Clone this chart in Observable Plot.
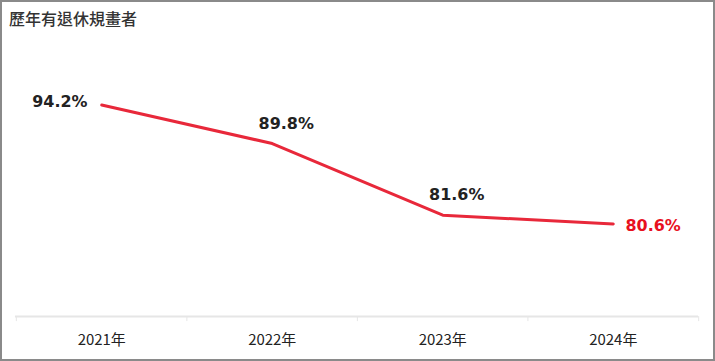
<!DOCTYPE html>
<html><head><meta charset="utf-8">
<script src="https://cdn.jsdelivr.net/npm/d3@7"></script>
<script src="https://cdn.jsdelivr.net/npm/@observablehq/plot@0.6"></script>
<style>
html,body{margin:0;padding:0;background:#fff;}
#wrap{position:relative;width:715px;height:361px;box-sizing:border-box;border:2px solid #8a8a8a;overflow:hidden;}
#title{position:absolute;left:7px;top:4px;font-family:"Noto Sans CJK TC",sans-serif;font-size:16px;font-weight:500;color:#333;}
#chart{position:absolute;left:-2px;top:-2px;}
</style></head>
<body>
<div id="wrap"><div id="title">歷年有退休規畫者</div><div id="chart"></div></div>
<script>
const years = ["2021年","2022年","2023年","2024年"];
const values = [94.2, 89.8, 81.6, 80.6];
const labels = ["94.2%","89.8%","81.6%","80.6%"];
const data = years.map((y,i)=>({year:y, value:values[i], label:labels[i], i}));
const W = 715, H = 361, mL = 15, mR = 15;
const step = (W - mL - mR) / years.length;
const font = "'DejaVu Sans', Verdana, sans-serif";
const chart = Plot.plot({
  width: W, height: H,
  marginLeft: mL, marginRight: mR, marginTop: 54, marginBottom: 44,
  style: {background: "transparent", overflow: "visible"},
  x: {type: "band", domain: years, padding: 0, label: null},
  y: {domain: [70, 100], axis: null},
  marks: [
    Plot.ruleY([70], {stroke: "#e6e6e6", strokeWidth: 2}),
    Plot.ruleX(years, {x: d=>d, dx: -step/2, y1: 70, y2: 70, insetBottom: -5, stroke: "#e6e6e6", strokeWidth: 1}),
    Plot.ruleX([years[years.length-1]], {x: d=>d, dx: step/2, y1: 70, y2: 70, insetBottom: -5, stroke: "#e6e6e6", strokeWidth: 1}),
    Plot.axisX({tickSize: 0, tickPadding: 18, fontSize: 15, fill: "#222", fontFamily: "'Noto Sans CJK TC', sans-serif", label: null}),
    Plot.line(data, {x: "year", y: "value", stroke: "#e8283a", strokeWidth: 3}),
    Plot.text(data.filter(d=>d.i===0), {x: "year", y: "value", text: "label", dx: -42, dy: -3, fontSize: 16, fontWeight: "bold", fill: "#222", fontFamily: font}),
    Plot.text(data.filter(d=>d.i===1 || d.i===2), {x: "year", y: "value", text: "label", dx: 14, dy: -20, fontSize: 16, fontWeight: "bold", fill: "#222", fontFamily: font}),
    Plot.text(data.filter(d=>d.i===3), {x: "year", y: "value", text: "label", dx: 40, dy: 2, fontSize: 16, fontWeight: "bold", fill: "#e8101e", fontFamily: font})
  ]
});
document.getElementById("chart").appendChild(chart);
</script>
</body></html>
